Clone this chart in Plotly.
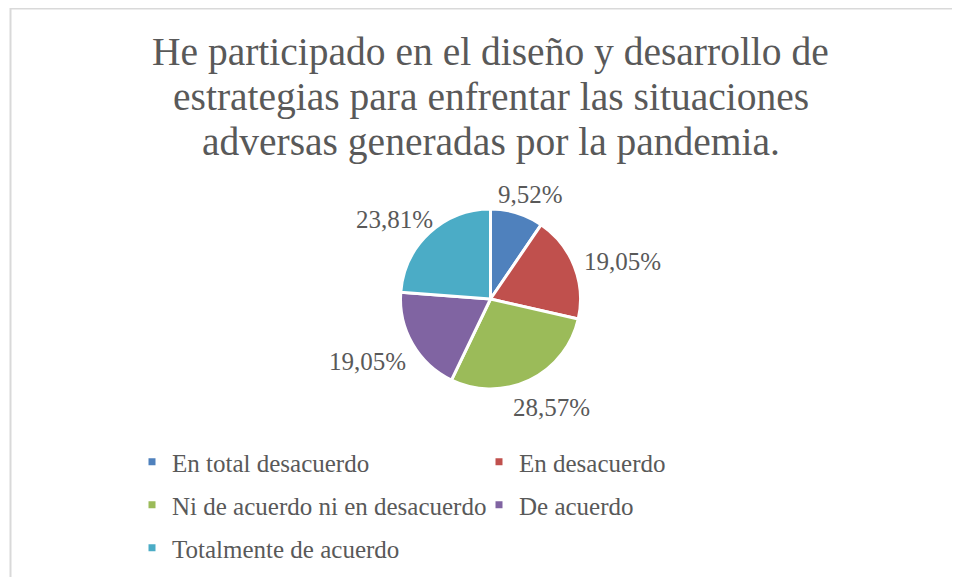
import math
import plotly.graph_objects as go

categories = ["En total desacuerdo", "En desacuerdo", "Ni de acuerdo ni en desacuerdo",
              "De acuerdo", "Totalmente de acuerdo"]
values = [2, 4, 6, 4, 5]
colors = ["#4F81BD", "#C0504D", "#9BBB59", "#8064A2", "#4BACC6"]
title_lines = ["He participado en el diseño y desarrollo de",
               "estrategias para enfrentar las situaciones",
               "adversas generadas por la pandemia."]

FONT = "Liberation Serif"
TXT = "#595959"
# page body has an 8px margin; keep the figure inside the 960x577 window
W, H = 952, 569

def px(x):
    return x / W

def py(y):  # y measured from top, in px
    return 1 - y / H

fig = go.Figure()

cx, cy, r = 482.5, 291, 90
fig.add_trace(go.Pie(
    labels=categories, values=values, sort=False, direction="clockwise", rotation=0,
    marker=dict(colors=colors, line=dict(color="white", width=3)),
    textinfo="none", showlegend=False, hoverinfo="label+percent",
    domain=dict(x=[px(cx - r), px(cx + r)], y=[py(cy + r), py(cy - r)]),
))

# percentage labels placed outside each slice, derived from the slice angles
annotations = []
total = sum(values)
cum = 0
LBL = 25
for v in values:
    a = math.radians((cum + v / 2) / total * 360)
    cum += v
    txt = f"{v / total * 100:.2f}".replace(".", ",") + "%"
    ux, uy = math.sin(a), -math.cos(a)
    hw, hh = 0.257 * LBL * len(txt), 12
    sx = cx + (r + 13) * ux + hw * ux
    sy = cy + (r + 13) * uy + hh * uy + 5
    annotations.append(dict(x=px(sx), y=py(sy), xref="paper", yref="paper", text=txt,
                            showarrow=False, xanchor="center", yanchor="middle",
                            font=dict(family=FONT, size=LBL, color=TXT)))

for i, line in enumerate(title_lines):
    annotations.append(dict(x=px(482.5), y=py(44 + 45 * i), xref="paper", yref="paper",
                            text=line, showarrow=False, xanchor="center", yanchor="middle",
                            font=dict(family=FONT, size=39.5, color=TXT)))

# legend entries (split over three rows)
legend_of = ["legend", "legend", "legend2", "legend2", "legend3"]
for cat, col, lg in zip(categories, colors, legend_of):
    fig.add_trace(go.Scatter(x=[None], y=[None], mode="markers", name=cat,
                             marker=dict(symbol="square", size=7, color=col),
                             legend=lg, showlegend=True, hoverinfo="skip"))

leg_common = dict(orientation="h", xanchor="left", yanchor="middle", entrywidth=302,
                  entrywidthmode="pixels", font=dict(family=FONT, size=25, color=TXT),
                  bgcolor="rgba(0,0,0,0)", itemclick=False, itemdoubleclick=False)
rows_y = [454, 497, 540]
fig.update_layout(
    legend=dict(x=px(124), y=py(rows_y[0]), **leg_common),
    legend2=dict(x=px(124), y=py(rows_y[1]), **leg_common),
    legend3=dict(x=px(124), y=py(rows_y[2]), **leg_common),
)

fig.update_layout(
    width=W, height=H, margin=dict(l=0, r=0, t=0, b=0),
    paper_bgcolor="white", plot_bgcolor="white",
    separators=",.",
    annotations=annotations,
    xaxis=dict(visible=False), yaxis=dict(visible=False),
    shapes=[dict(type="path", xref="paper", yref="paper",
                 path=f"M {px(2.5)},0 L {px(2.5)},{py(0.5)} L 1,{py(0.5)}",
                 line=dict(color="#D9D9D9", width=2))],
)

fig.write_html("out.html")
